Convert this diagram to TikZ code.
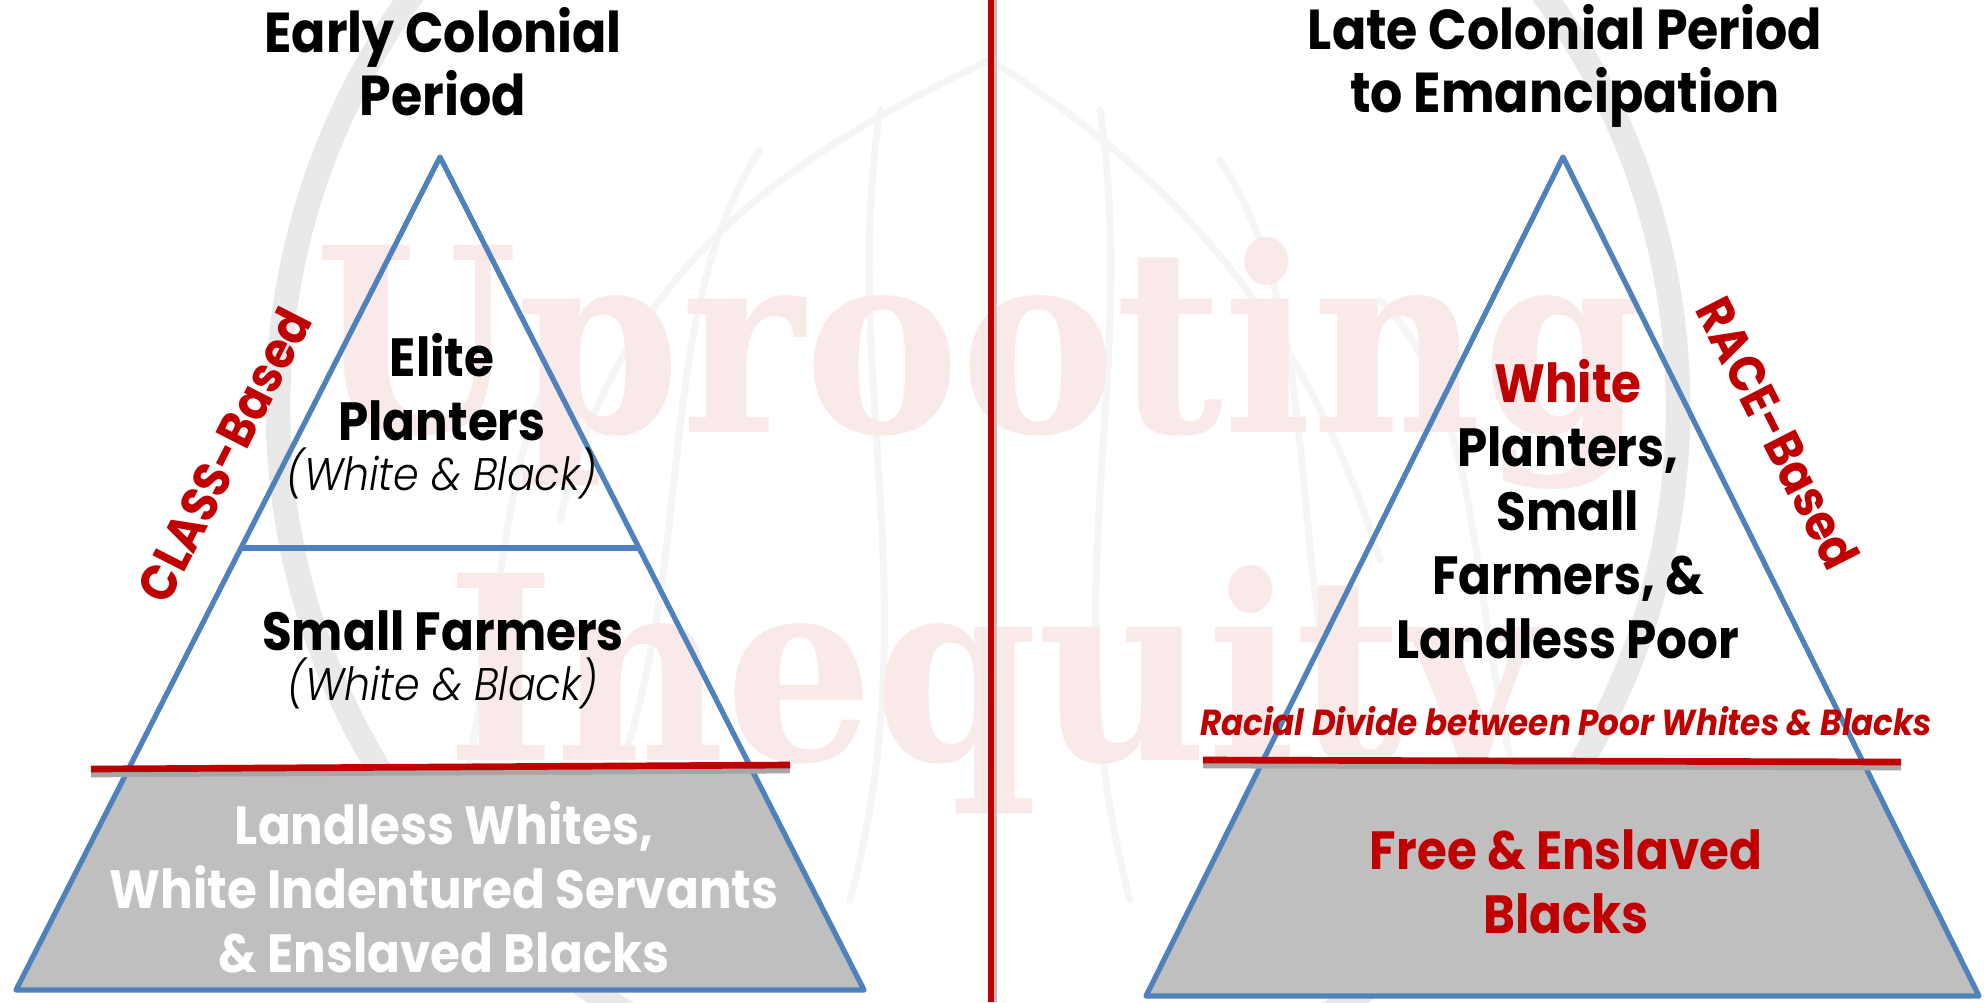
\documentclass[tikz,border=0pt]{standalone}
\usepackage{fontspec}
\usetikzlibrary{calc}
\setmainfont{Poppins}[FakeStretch=0.9]
\newfontfamily\lightfont{Poppins}[FakeStretch=0.9, UprightFont=* Light, ItalicFont=* Light Italic]
\newfontfamily\slabfont{DejaVu Serif}

\definecolor{pyrblue}{RGB}{79,129,189}
\definecolor{darkred}{RGB}{192,0,0}
\definecolor{lvlgray}{RGB}{191,191,191}
\definecolor{wmpink}{RGB}{249,233,233}
\definecolor{wmgray}{RGB}{233,233,233}
\definecolor{rootgray}{RGB}{245,245,245}

\begin{document}
\begin{tikzpicture}[x=0.01cm, y=-0.01cm,
    title/.style={font=\bfseries\fontsize{16}{17.9}\selectfont, align=center, anchor=base, inner sep=0},
    level/.style={font=\bfseries\fontsize{15.3}{18.2}\selectfont, align=center, anchor=base, inner sep=0},
    note/.style={font=\lightfont\itshape\fontsize{13}{15}\selectfont, anchor=base, inner sep=0},
    side/.style={font=\bfseries\fontsize{14.5}{18}\selectfont, text=darkred, inner sep=0},
    pyramid/.style={draw=pyrblue, line width=1.5pt, line join=round},
    divide/.style={draw=darkred, line width=1.9pt},
    root/.style={draw=rootgray, line width=2pt, line cap=round},
    wmtext/.style={font=\slabfont\bfseries\fontsize{73}{80}\selectfont, text=wmpink, anchor=base, inner sep=0, xscale=0.91}]
  \useasboundingbox (0,0) rectangle (1985,1002);

  % watermark: roots, ring and lettering
  \draw[root] (990,60) .. controls (800,150) and (620,260) .. (560,520);
  \draw[root] (990,60) .. controls (1150,160) and (1300,300) .. (1380,560);
  \draw[root] (760,150) .. controls (650,320) and (700,560) .. (610,800);
  \draw[root] (1220,160) .. controls (1330,330) and (1280,560) .. (1360,820);
  \draw[root] (880,110) .. controls (840,380) and (930,600) .. (850,900);
  \draw[root] (1100,110) .. controls (1140,380) and (1050,600) .. (1130,900);
  \draw[root] (600,300) .. controls (480,420) and (520,650) .. (430,900);
  \draw[root] (1380,300) .. controls (1500,420) and (1460,650) .. (1550,900);
  \draw[wmgray, line width=7pt] (978,407) circle (700);
  \node[wmtext] (wmup) at (980,432) {Uprooting};
  \node[wmtext] (wmin) at (993,760) {Inequity};

  % divider between the two periods
  \draw[black!25, line width=1.9pt] (994,0) -- (994,1002);
  \draw[divide] (991,0) -- (991,1002);

  % Early colonial pyramid
  \coordinate (lTop) at (440,157);
  \coordinate (lLeft) at (16,990);
  \coordinate (lRight) at (864,990);
  \fill[black!30, opacity=0.6, yshift=-6] ($(lTop)!0.7335!(lLeft)$) -- ($(lTop)!0.7335!(lRight)$) -- (lRight) -- (lLeft) -- cycle;
  \fill[lvlgray] ($(lTop)!0.7335!(lLeft)$) -- ($(lTop)!0.7335!(lRight)$) -- (lRight) -- (lLeft) -- cycle;
  \draw[pyramid] (lTop) -- (lRight) -- (lLeft) -- cycle;
  \draw[pyramid] ($(lTop)!0.4694!(lLeft)$) -- ($(lTop)!0.4694!(lRight)$);
  \draw[black!35, line width=1.9pt] (91,774) -- (790,770);
  \draw[divide] (91,769) -- (790,765);

  % Late colonial pyramid
  \coordinate (rTop) at (1563,157);
  \coordinate (rLeft) at (1146,996);
  \coordinate (rRight) at (1979,996);
  \fill[black!30, opacity=0.6, xshift=-8] ($(rTop)!0.722!(rLeft)$) -- ($(rTop)!0.722!(rRight)$) -- (rRight) -- (rLeft) -- cycle;
  \fill[lvlgray] ($(rTop)!0.722!(rLeft)$) -- ($(rTop)!0.722!(rRight)$) -- (rRight) -- (rLeft) -- cycle;
  \draw[pyramid] (rTop) -- (rRight) -- (rLeft) -- cycle;
  \draw[black!35, line width=1.9pt] (1203,765) -- (1901,767);
  \draw[divide] (1203,760) -- (1901,762);

  % titles
  \node[title] (earlyT) at (443,115) {Early Colonial\\Period};
  \node[title] (lateT) at (1565,112) {Late Colonial Period\\to Emancipation};

  % left levels
  \node[level] (elite) at (442,440) {Elite\\Planters};
  \node[note] (eliteN) at (442,490) {(White \& Black)};
  \node[level] (small) at (443,650) {Small Farmers};
  \node[note] (smallN) at (443,700) {(White \& Black)};
  \node[level, text=white] (landless) at (444,972) {Landless Whites,\\White Indentured Servants\\\& Enslaved Blacks};
  \node[side, rotate=63] (classB) at (224,455) {CLASS-Based};

  % right levels
  \node[level] (white) at (1568,658) {\textcolor{darkred}{White}\\Planters,\\Small\\Farmers, \&\\Landless Poor};
  \node[font=\bfseries\itshape\fontsize{10.3}{12}\selectfont, text=darkred, anchor=base, inner sep=0] (racial) at (1566,735) {Racial Divide between Poor Whites \& Blacks};
  \node[level, text=darkred] (blacks) at (1566,933) {Free \& Enslaved\\Blacks};
  \node[side, rotate=-63] (raceB) at (1778,433) {RACE-Based};
\end{tikzpicture}
\end{document}
